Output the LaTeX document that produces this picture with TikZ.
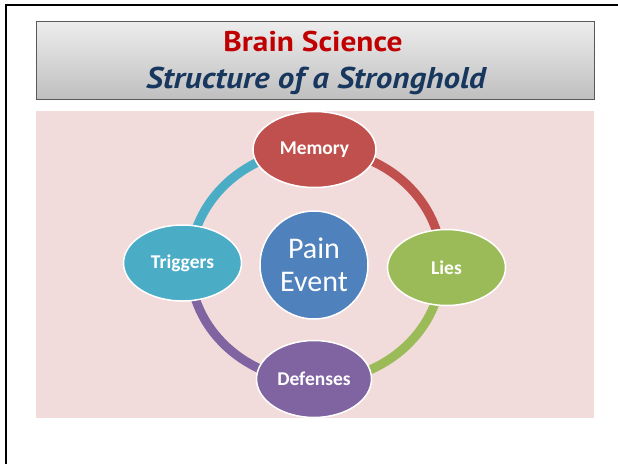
\documentclass[tikz,border=0pt]{standalone}
\usepackage{fontspec}
\setmainfont{Carlito}
\newfontfamily\titlefont[FakeStretch=1.1]{PT Sans}
\usetikzlibrary{shapes.geometric}
\definecolor{pinkbg}{HTML}{F2DCDB}
\definecolor{titlered}{HTML}{C00000}
\definecolor{titleblue}{HTML}{17375E}
\definecolor{cred}{HTML}{C0504D}
\definecolor{cgreen}{HTML}{9BBB59}
\definecolor{cpurple}{HTML}{8064A2}
\definecolor{ccyan}{HTML}{4BACC6}
\definecolor{cblue}{HTML}{4F81BD}
\tikzset{
  cyclenode/.style={ellipse, draw=white, line width=1.5pt, minimum width=118pt, minimum height=76pt, inner sep=0pt, text=white, font=\fontsize{19.5}{22}\selectfont\bfseries},
  ringseg/.style={line width=9pt},
}
\begin{document}
\begin{tikzpicture}[x=1pt,y=-1pt]
\useasboundingbox (0,0) rectangle (618,463);
\fill[white] (0,0) rectangle (618,463);
% outer frame
\draw[black, line width=2pt] (5.5,470) -- (5.5,4.5) -- (625,4.5);
% title box
\node[draw=black!65, line width=1pt, top color=black!7, bottom color=black!25, minimum width=558pt, minimum height=78pt, inner sep=0pt] (titlebox) at (315,60) {};
\node[anchor=base, text=titlered, font=\titlefont\fontsize{28.5}{30}\selectfont\bfseries] (t1) at (313,51.7) {Brain Science};
\node[anchor=base, text=titleblue, font=\titlefont\fontsize{30}{32}\selectfont\bfseries\itshape] (t2) at (316,88.3) {Structure of a Stronghold};
% pink background
\fill[pinkbg] (36,111) rectangle (594,418);
% ring
\coordinate (c) at (316,265);
\draw[ringseg, cred] (c) ++(270:126 and 116) arc[start angle=270, end angle=360, x radius=126, y radius=116];
\draw[ringseg, cgreen] (c) ++(0:126 and 116) arc[start angle=0, end angle=90, x radius=126, y radius=116];
\draw[ringseg, cpurple] (c) ++(90:126 and 116) arc[start angle=90, end angle=180, x radius=126, y radius=116];
\draw[ringseg, ccyan] (c) ++(180:126 and 116) arc[start angle=180, end angle=270, x radius=126, y radius=116];
% nodes
\node[cyclenode, fill=cred, minimum width=123pt] (memory) at (314.5,149.5) {Memory};
\node[cyclenode, fill=cgreen] (lies) at (446.5,267.5) {Lies};
\node[cyclenode, fill=cpurple, minimum width=115pt, minimum height=77pt] (defenses) at (314,379) {Defenses};
\node[cyclenode, fill=ccyan] (triggers) at (182.5,263) {Triggers};
\node[circle, draw=white, line width=1.5pt, fill=cblue, minimum size=108pt, inner sep=0pt, text=white, align=center, font=\fontsize{30}{33}\selectfont] (pain) at (314,265) {Pain\\Event};
\end{tikzpicture}
\end{document}
